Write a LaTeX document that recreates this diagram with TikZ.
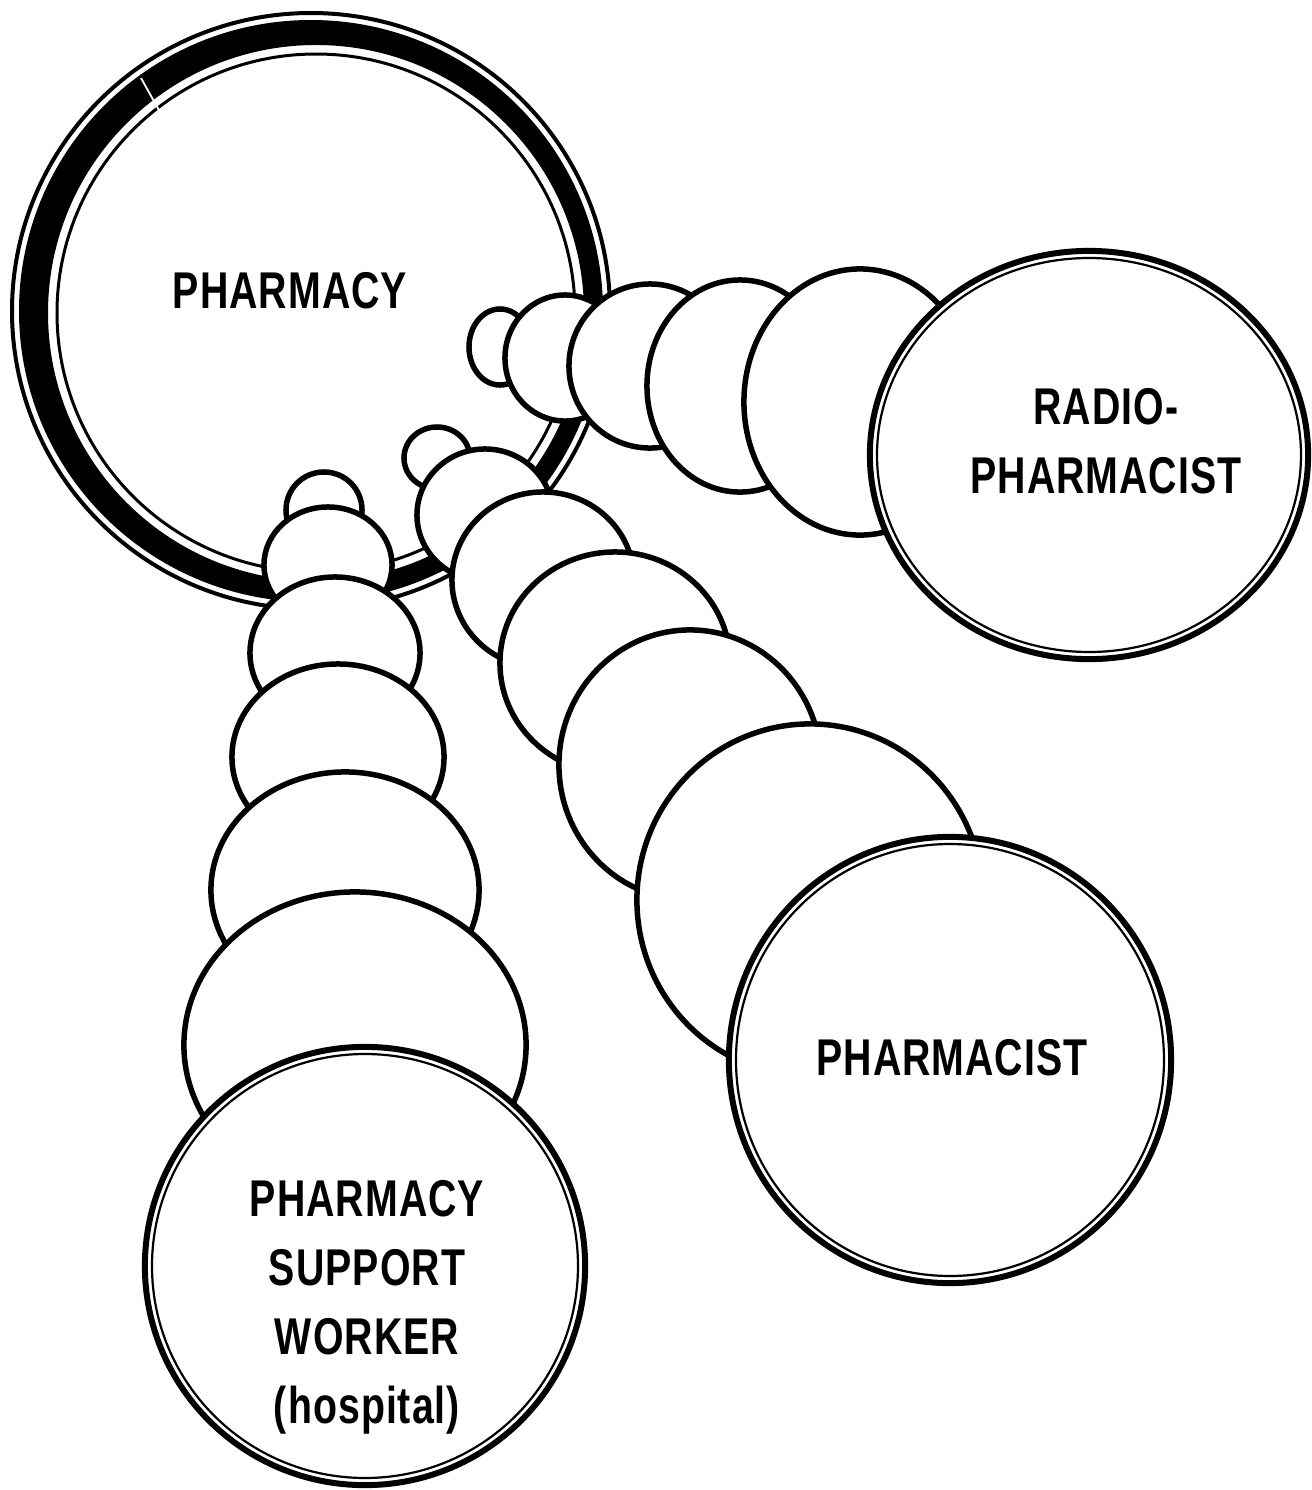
\documentclass[tikz,border=0pt]{standalone}
\usepackage{fontspec}
\usepackage{tikz}
\usetikzlibrary{shapes.geometric}
\newfontfamily\fuenteRotulo[FakeStretch=0.76, LetterSpace=2]{Liberation Sans Bold}

\begin{document}
\begin{tikzpicture}[
        x=0.01cm, y=-0.01cm,
        disco/.style 2 args={ellipse, draw, fill=white, line width=0.055cm, minimum width=#1, minimum height=#2, inner sep=0pt},
        principal/.style 2 args={disco={#1}{#2}, line width=0.06cm},
        filete/.style={line width=0.022cm},
        texto/.style={font=\fuenteRotulo\fontsize{14.7}{19.6}\selectfont, align=center, inner sep=0pt}
    ]
        \useasboundingbox[fill=white] (0,0) rectangle (1311,1490);

        % Anillo de la farmacia (linea exterior, banda gruesa, linea interior)
        \coordinate (anillo) at (311,311);
        \coordinate (anilloIn) at (316,313);
        \draw[line width=0.04cm] (anillo) ellipse [x radius=299, y radius=298];
        \fill[even odd rule] (anillo) ellipse [x radius=292, y radius=291] (anilloIn) ellipse [x radius=268, y radius=268];
        \draw[line width=0.03cm] (anilloIn) ellipse [x radius=259, y radius=259];
        \draw[white, line width=0.018cm] (141,78) -- (160,112);
        \node[texto] (lblFarmacia) at (290,291) {PHARMACY};

        % Cadena hacia el radiofarmaceutico
        \node[disco={0.62cm}{0.76cm}] (r1) at (500,347) {};
        \node[disco={1.20cm}{1.26cm}] (r2) at (565,358) {};
        \node[disco={1.62cm}{1.64cm}] (r3) at (650,366) {};
        \node[disco={1.86cm}{2.12cm}] (r4) at (740,386) {};
        \node[disco={2.32cm}{2.66cm}] (r5) at (860,402) {};
        \node[principal={4.38cm}{4.08cm}] (radio) at (1089,455) {};
        \draw[filete] (radio.center) ellipse [x radius=212, y radius=197];
        \node[texto] (lblRadio) at (1106,441) {RADIO-\\PHARMACIST};

        % Cadena hacia el farmaceutico
        \node[disco={0.66cm}{0.62cm}] (p1) at (437,458) {};
        \node[disco={1.36cm}{1.32cm}] (p2) at (485,515) {};
        \node[disco={1.82cm}{1.76cm}] (p3) at (543,580) {};
        \node[disco={2.30cm}{2.22cm}] (p4) at (615,663) {};
        \node[disco={2.62cm}{2.70cm}] (p5) at (690,765) {};
        \node[disco={3.46cm}{3.52cm}] (p6) at (810,900) {};
        \node[principal={4.42cm}{4.46cm}] (farmaceutico) at (950,1060) {};
        \draw[filete] (farmaceutico.center) ellipse [x radius=214, y radius=216];
        \node[texto] (lblFarmaceutico) at (952,1058) {PHARMACIST};

        % Cadena hacia el auxiliar de farmacia
        \node[disco={0.76cm}{0.76cm}] (s1) at (324,510) {};
        \node[disco={1.28cm}{1.16cm}] (s2) at (328,565) {};
        \node[disco={1.70cm}{1.52cm}] (s3) at (335,653) {};
        \node[disco={2.12cm}{1.86cm}] (s4) at (338,757) {};
        \node[disco={2.68cm}{2.36cm}] (s5) at (345,890) {};
        \node[disco={3.42cm}{3.06cm}] (s6) at (355,1045) {};
        \node[principal={4.40cm}{4.38cm}] (auxiliar) at (365,1266) {};
        \draw[filete] (auxiliar.center) ellipse [x radius=213, y radius=212];
        \node[texto] (lblAuxiliar) at (367,1307) {PHARMACY\\SUPPORT\\WORKER\\(hospital)};
    \end{tikzpicture}
\end{document}
